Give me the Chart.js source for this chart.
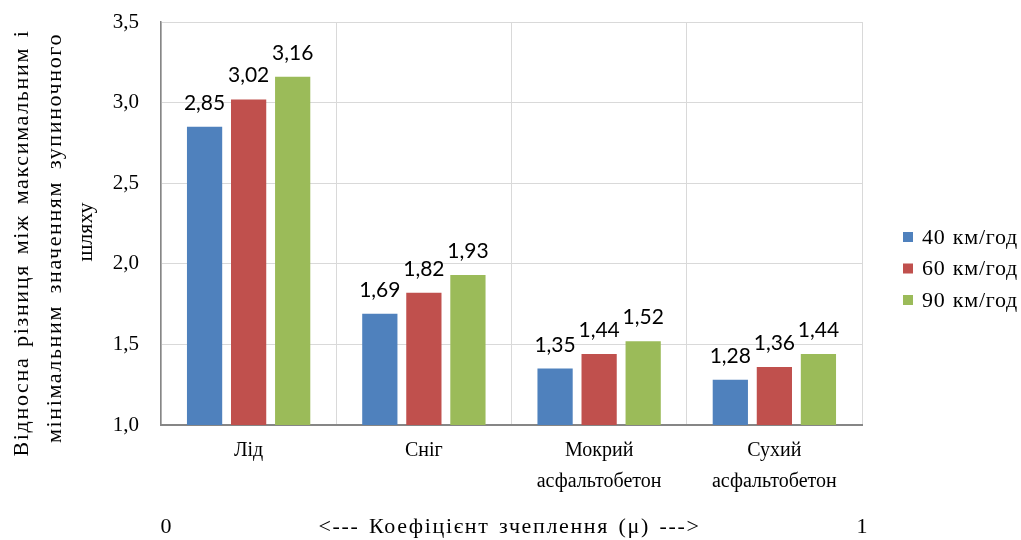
<!DOCTYPE html>
<html>
<head>
<meta charset="utf-8">
<script src="https://cdn.jsdelivr.net/npm/chart.js@4.4.1/dist/chart.umd.min.js"></script>
<style>
  html, body { margin: 0; padding: 0; background: #fff; }
  #wrap { width: 1021px; height: 540px; }
</style>
</head>
<body>
<div id="wrap"><canvas id="chart" width="1021" height="540"></canvas></div>
<script>
// data
const categories = [["Лід"], ["Сніг"], ["Мокрий", "асфальтобетон"], ["Сухий", "асфальтобетон"]];
const seriesNames = ["40 км/год", "60 км/год", "90 км/год"];
const speed40 = [2.85, 1.69, 1.35, 1.28];
const speed60 = [3.02, 1.82, 1.44, 1.36];
const speed90 = [3.16, 1.93, 1.52, 1.44];
const yTicks = [1.0, 1.5, 2.0, 2.5, 3.0, 3.5];
const yTitle = ["Відносна різниця між максимальним і", "мінімальним значенням зупиночного", "шляху"];
const xTitle = "<--- Коефіцієнт зчеплення (μ) --->";
const xEnds = ["0", "1"];

const colors = ["#4f81bd", "#c0504d", "#9bbb59"];
const serif = "'Liberation Serif', 'Times New Roman', serif";
const sans = "Lato, 'Open Sans', sans-serif";

const comma = v => v.toFixed(2).replace(".", ",");

// widen a line of text to a given width (the reference text runs wider)
function spread(ctx, text, x, y, width) {
  ctx.letterSpacing = "0px";
  ctx.wordSpacing = "0px";
  const extra = width - ctx.measureText(text).width;
  if (extra > 0) {
    const gaps = text.split(" ").length - 1;
    ctx.letterSpacing = (extra * 0.85 / text.length) + "px";
    if (gaps) ctx.wordSpacing = (extra * 0.15 / gaps) + "px";
  }
  ctx.fillText(text, x, y);
  ctx.letterSpacing = "0px";
  ctx.wordSpacing = "0px";
}

// value labels above bars
const valueLabels = {
  id: "valueLabels",
  afterDatasetsDraw(chart) {
    const ctx = chart.ctx;
    ctx.save();
    ctx.font = "21px " + sans;
    ctx.fillStyle = "#000";
    ctx.textAlign = "center";
    ctx.textBaseline = "alphabetic";
    chart.data.datasets.forEach((ds, i) => {
      chart.getDatasetMeta(i).data.forEach((bar, j) => {
        ctx.fillText(comma(ds.data[j]), bar.x, bar.y - 17);
      });
    });
    ctx.restore();
  }
};

// axis titles, end labels and legend
const extras = {
  id: "extras",
  afterDraw(chart) {
    const ctx = chart.ctx;
    const a = chart.chartArea;
    ctx.save();
    ctx.fillStyle = "#000";

    // y title
    ctx.font = "22px " + serif;
    ctx.textAlign = "center";
    ctx.textBaseline = "middle";
    const xs = [22, 55, 86];
    const cy = [243, 238, 232];
    const widths = [427, 410, 0];
    yTitle.forEach((t, i) => {
      ctx.save();
      ctx.translate(xs[i], cy[i]);
      ctx.rotate(-Math.PI / 2);
      spread(ctx, t, 0, 0, widths[i]);
      ctx.restore();
    });

    // x title
    spread(ctx, xTitle, (a.left + a.right) / 2 - 2, 527, 382);
    ctx.fillText(xEnds[0], a.left + 5, 527);
    ctx.fillText(xEnds[1], a.right, 527);

    // legend
    ctx.textAlign = "left";
    chart.data.datasets.forEach((ds, i) => {
      const y = 237 + i * 31.5;
      ctx.fillStyle = ds.backgroundColor;
      ctx.fillRect(903, y - 5, 10, 10);
      ctx.fillStyle = "#000";
      spread(ctx, ds.label, 922, y + 1, 96);
    });
    ctx.restore();
  }
};

new Chart(document.getElementById("chart"), {
  type: "bar",
  data: {
    labels: categories,
    datasets: [
      { label: seriesNames[0], data: speed40, backgroundColor: colors[0] },
      { label: seriesNames[1], data: speed60, backgroundColor: colors[1] },
      { label: seriesNames[2], data: speed90, backgroundColor: colors[2] }
    ]
  },
  options: {
    responsive: false,
    animation: false,
    layout: { padding: { top: 22, right: 159, left: 0, bottom: 0 } },
    datasets: { bar: { categoryPercentage: 0.754, barPercentage: 0.8 } },
    plugins: { legend: { display: false }, tooltip: { enabled: false } },
    scales: {
      x: {
        grid: { color: "#d9d9d9", drawTicks: false, offset: true },
        border: { color: "#868686", width: 2 },
        ticks: { color: "#000", font: { family: serif, size: 20, lineHeight: 1.55 }, padding: 10, maxRotation: 0 },
        afterFit(s) { s.height = 115; }
      },
      y: {
        min: 1, max: 3.5,
        afterBuildTicks(s) { s.ticks = yTicks.map(v => ({ value: v })); },
        grid: { color: "#d9d9d9", drawTicks: false },
        border: { color: "#868686", width: 1.5 },
        ticks: { color: "#000", font: { family: serif, size: 21 }, padding: 22, callback: v => v.toFixed(1).replace(".", ",") },
        afterFit(s) { s.width = 161; s.paddingTop = 0; s.paddingBottom = 0; }
      }
    }
  },
  plugins: [valueLabels, extras]
});
</script>
</body>
</html>
